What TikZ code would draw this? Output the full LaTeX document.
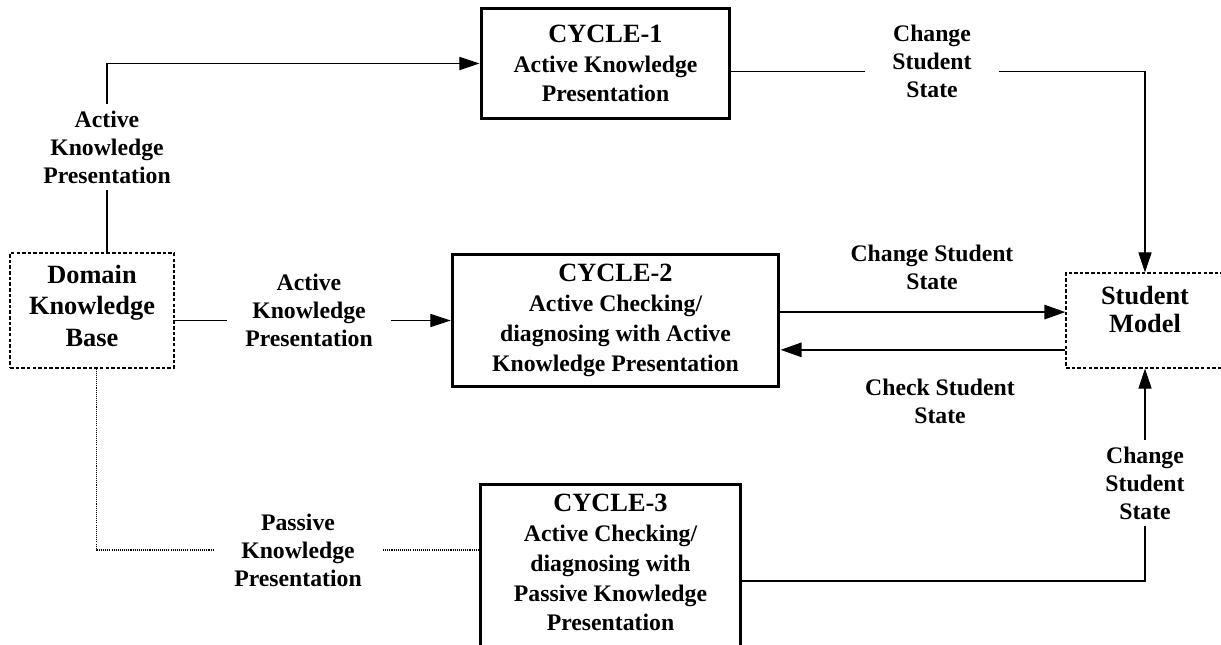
\documentclass[tikz,border=0pt]{standalone}
\usepackage{fontspec}
\setmainfont{Liberation Serif}
\usetikzlibrary{arrows.meta}

\begin{document}
\begin{tikzpicture}[x=0.02cm, y=-0.02cm,
        lbl/.style={align=center, inner xsep=0.3cm, inner ysep=0.12cm, font=\bfseries\fontsize{13.5}{16}\selectfont},
        cyc/.style={draw, line width=1.7pt, align=center, inner sep=0pt, font=\bfseries\fontsize{13.5}{17}\selectfont},
        base/.style={draw, line width=0.6pt, dash pattern=on 2pt off 1.2pt, align=center, inner sep=0pt},
        conn/.style={line width=0.6pt},
        arr/.style={conn, -{Triangle[length=11.5pt, width=7.5pt]}},
        bigarr/.style={line width=1.5pt, -{Triangle[length=12pt, width=8pt]}},
        dots/.style={line width=0.6pt, dash pattern=on 0.6pt off 0.6pt}
    ]
    \clip (0,0) rectangle (1221,645);
    \node[base, minimum width=3.28cm, minimum height=2.3cm, text depth=0.2cm,
        font=\bfseries\fontsize{15}{18}\selectfont] (dkb) at (92,310.5) {Domain\\Knowledge\\Base};
    \node[base, minimum width=3.16cm, minimum height=1.9cm, text depth=0.44cm,
        font=\bfseries\fontsize{15}{16}\selectfont] (sm) at (1145,320.5) {Student\\Model};
    \node[cyc, minimum width=4.98cm, minimum height=2.22cm] (c1) at (605.5,63.5)
        {{\fontsize{15}{17}\selectfont CYCLE-1}\\Active Knowledge\\Presentation};
    \node[cyc, minimum width=6.54cm, minimum height=2.66cm] (c2) at (615.5,320.5)
        {{\fontsize{15}{17}\selectfont CYCLE-2}\\Active Checking/\\diagnosing with Active\\Knowledge Presentation};
    \node[cyc, minimum width=5.22cm, minimum height=3.88cm, text depth=0.74cm] (c3) at (610.5,581)
        {{\fontsize{15}{17}\selectfont CYCLE-3}\\Active Checking/\\diagnosing with\\Passive Knowledge\\Presentation};

    \node[lbl] (l1) at (107,147) {Active\\Knowledge\\Presentation};
    \node[lbl, inner xsep=0.36cm] (l2) at (309,310) {Active\\Knowledge\\Presentation};
    \node[lbl, inner xsep=0.54cm] (l3) at (932,61) {Change\\Student\\State};
    \node[lbl] (l4) at (932,267.5) {Change Student\\State};
    \node[lbl] (l5) at (940,401) {Check Student\\State};
    \node[lbl, inner xsep=0.42cm] (l6) at (298,550) {Passive\\Knowledge\\Presentation};
    \node[lbl] (l7) at (1145,483) {Change\\Student\\State};

    \draw[conn] (dkb.north -| l1) -- (l1.south);
    \draw[arr] (l1.north) |- (c1.west);
    \draw[conn] ([yshift=-4.8pt]c1.east) -- ([yshift=-4.8pt]c1.east -| l3.west);
    \draw[arr] ([yshift=-4.8pt]c1.east -| l3.east) -| (sm.north);
    \draw[conn] (dkb.east |- c2.west) -- (l2.west |- c2.west);
    \draw[arr] (l2.east |- c2.west) -- (c2.west);
    \draw[bigarr] ([yshift=4.8pt]c2.east) -- ([yshift=4.8pt]c2.east -| sm.west);
    \draw[bigarr] ([yshift=-16.7pt]c2.east -| sm.west) -- ([yshift=-16.7pt]c2.east);
    \draw[dots] ([xshift=2.8pt]dkb.south) |- (l6.west);
    \draw[dots] (l6.east) -- (l6.east -| c3.west);
    \draw[conn] (c3.east) -| (l7.south);
    \draw[arr] (l7.north) -- (sm.south);
\end{tikzpicture}
\end{document}
